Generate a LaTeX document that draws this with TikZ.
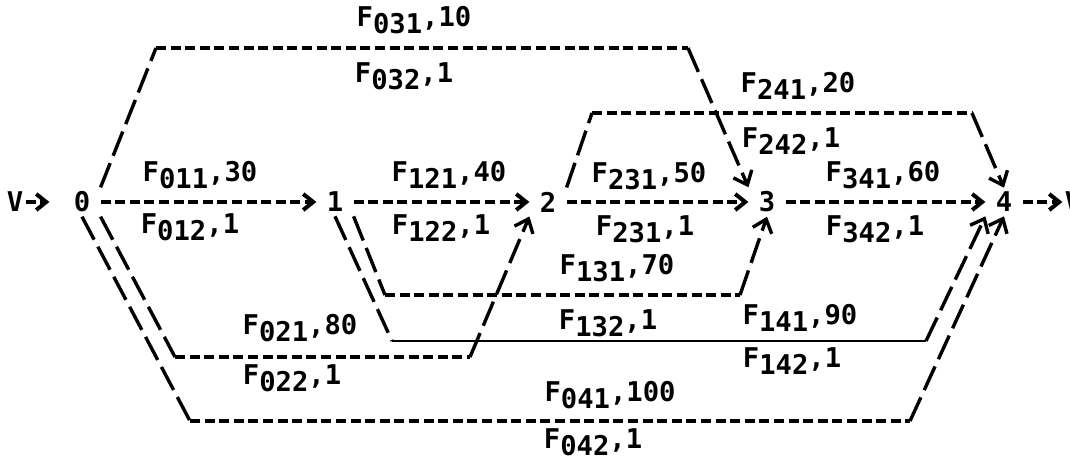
\documentclass[tikz,border=0pt]{standalone}
\usepackage{fontspec}
\setmainfont{DejaVu Sans Mono}
\usetikzlibrary{arrows.meta}

\newcommand{\flab}[2]{F\raisebox{-3.5pt}{#1},#2}

\begin{document}
\begin{tikzpicture}[x=0.5pt,y=-0.5pt,font=\fontsize{13.6}{16}\selectfont\bfseries,
  vert/.style={inner xsep=5pt,inner ysep=2pt},
  hline/.style={line width=2pt,dash pattern=on 5pt off 2.3pt},
  sline/.style={line width=1.7pt,dash pattern=on 13pt off 4pt},
  uline/.style={line width=1.4pt},
  arr/.style={-{Straight Barb[length=5pt,width=8pt]}},
  varr/.style={-{Straight Barb[length=6pt,width=10pt]}}]
\useasboundingbox (0,0) rectangle (1070,460);
% vertices
\node[vert] (n0) at (82,202) {0};
\node[vert] (n1) at (335,202) {1};
\node[vert] (n2) at (548,202) {2};
\node[vert] (n3) at (767,202) {3};
\node[vert] (n4) at (1004,202) {4};
\node[inner xsep=1pt] (v0) at (15,202) {V};
\node[inner xsep=1pt] (v1) at (1073,202) {V};
% bends of the long arcs
\coordinate (c03a) at (156,48);  \coordinate (c03b) at (688,48);
\coordinate (c24a) at (592,113); \coordinate (c24b) at (972,113);
\coordinate (c13a) at (385,295); \coordinate (c13b) at (740,295);
\coordinate (c14a) at (392,341); \coordinate (c14b) at (926,341);
\coordinate (c02a) at (175,357); \coordinate (c02b) at (470,357);
\coordinate (c04a) at (190,421); \coordinate (c04b) at (910,421);
% straight arcs
\draw[hline,arr,shorten >=7pt] (v0) -- (n0);
\draw[hline,arr] (n0) -- (n1);
\draw[hline,arr] (n1) -- (n2);
\draw[hline,arr] (n2) -- (n3);
\draw[hline,arr] (n3) -- (n4);
\draw[hline,arr] (n4) -- (v1);
% long arcs
\foreach \s/\a/\b/\t/\m in %
{n0.north east/c03a/c03b/n3.north west/hline,
 n2.north east/c24a/c24b/n4.north/hline,
 n1.south east/c13a/c13b/n3.south/hline,
 n1.south/c14a/c14b/n4.south west/uline,
 n0.south east/c02a/c02b/n2.south west/hline,
 n0.south/c04a/c04b/n4.south/hline} {
   \draw[sline] (\s) -- (\a);
   \draw[\m] (\a) -- (\b);
   \draw[sline,varr] (\b) -- (\t);
}
% labels
\foreach \n/\x/\y/\i/\v in %
{t031/414/20/031/10, t032/404/76/032/1,
 t241/798/86/241/20, t242/791/141/242/1,
 t011/200/175/011/30, t012/190/227/012/1,
 t121/449/175/121/40, t122/441/228/122/1,
 t231/649/176/231/50, t232/645/229/231/1,
 t341/883/175/341/60, t342/875/229/342/1,
 t131/617/268/131/70, t132/608/323/132/1,
 t141/800/318/141/90, t142/792/361/142/1,
 t021/300/328/021/80, t022/292/378/022/1,
 t041/610/395/041/100, t042/593/442/042/1} {
   \node (\n) at (\x,\y) {\flab{\i}{\v}};
}
\end{tikzpicture}
\end{document}
